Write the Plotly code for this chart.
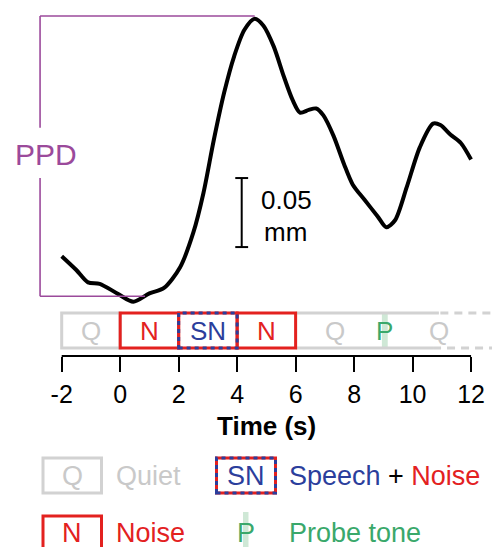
import plotly.graph_objects as go

# ---------------- data ----------------
time_s = [-2.0, -1.5, -1.1, -0.7, -0.1, 0.45, 1.0, 1.5, 2.05, 2.5, 2.85, 3.2, 3.55,
          3.9, 4.25, 4.6, 4.9, 5.25, 5.6, 5.9, 6.15, 6.45, 6.7, 6.95, 7.3, 7.65,
          7.95, 8.35, 8.8, 9.1, 9.4, 9.8, 10.25, 10.7, 10.95, 11.3, 11.65, 12.0]
pupil_mm = [0.033, 0.023, 0.014, 0.013, 0.006, 0.0, 0.006, 0.010, 0.025, 0.050,
            0.079, 0.117, 0.151, 0.178, 0.197, 0.205, 0.200, 0.185, 0.163, 0.146,
            0.137, 0.139, 0.140, 0.135, 0.120, 0.100, 0.085, 0.074, 0.062, 0.054,
            0.059, 0.083, 0.112, 0.129, 0.128, 0.121, 0.115, 0.103]

tick_vals = [-2, 0, 2, 4, 6, 8, 10, 12]
tick_text = ["-2", "0", "2", "4", "6", "8", "10", "12"]

# stimulus segments: (start, end, label)
seg_quiet1 = (-2, 0, "Q")
seg_noise1 = (0, 2, "N")
seg_sn = (2, 4, "SN")
seg_noise2 = (4, 6, "N")
seg_quiet2 = (6, 10.7, "Q")
seg_quiet3 = (10.7, 13.2, "Q")
probe_time = 9.05
quiet2_label_t = 7.35
quiet3_label_t = 10.9

ppd_peak_t = 4.6
ppd_base_t = 0.85
ppd_peak_v = 0.207
ppd_base_v = 0.004
ppd_left_t = -2.74

scale_t = 4.156
scale_v0 = 0.0396
scale_len = 0.05

# ---------------- styles ----------------
RED = "#e3211f"
BLUE = "#2b3e9c"
GREEN = "#3aa86b"
LGREEN = "#cfe8d6"
GRAY = "#d2d2d2"
GRAYTXT = "#c9c9c9"
PURPLE = "#9b4a9b"
FONT = "Liberation Sans, Arial, sans-serif"

W, H = 492, 547
XR = [-4.110, 12.716]
YR = [-0.1777, 0.2186]


def px(x):
    return x / W


def py(y):
    return 1 - y / H


fig = go.Figure()
fig.add_trace(go.Scatter(x=time_s, y=pupil_mm, mode="lines",
                         line=dict(color="black", width=4, shape="spline", smoothing=0.8),
                         hoverinfo="skip", showlegend=False))

shapes = []
ann = []

# axis line (from -2 to 12)
shapes.append(dict(type="line", xref="x", yref="paper", x0=tick_vals[0], x1=tick_vals[-1],
                   y0=py(356), y1=py(356), line=dict(color="black", width=2)))

# PPD bracket
pl = dict(color=PURPLE, width=1.6)
shapes.append(dict(type="line", xref="x", yref="y", x0=ppd_left_t, x1=ppd_peak_t,
                   y0=ppd_peak_v, y1=ppd_peak_v, line=pl))
shapes.append(dict(type="line", xref="x", yref="y", x0=ppd_left_t, x1=ppd_base_t,
                   y0=ppd_base_v, y1=ppd_base_v, line=pl))
shapes.append(dict(type="line", xref="x", yref="y", x0=ppd_left_t, x1=ppd_left_t,
                   y0=ppd_peak_v, y1=0.126, line=pl))
shapes.append(dict(type="line", xref="x", yref="y", x0=ppd_left_t, x1=ppd_left_t,
                   y0=0.0896, y1=ppd_base_v, line=pl))
ann.append(dict(x=-2.52, y=0.107, xref="x", yref="y", text="PPD", showarrow=False,
                font=dict(family=FONT, size=30, color=PURPLE), xanchor="center", yanchor="middle"))

# scale bar
sl = dict(color="black", width=2)
shapes.append(dict(type="line", xref="x", yref="y", x0=scale_t, x1=scale_t,
                   y0=scale_v0, y1=scale_v0 + scale_len, line=sl))
for yy in (scale_v0, scale_v0 + scale_len):
    shapes.append(dict(type="line", xref="x", yref="y", x0=scale_t - 0.22, x1=scale_t + 0.22,
                       y0=yy, y1=yy, line=sl))
ann.append(dict(x=scale_t + 0.6, y=scale_v0 + 0.034, xref="x", yref="y", text="0.05",
                showarrow=False, font=dict(family=FONT, size=26, color="black"),
                xanchor="left", yanchor="middle"))
ann.append(dict(x=scale_t + 0.7, y=scale_v0 + 0.011, xref="x", yref="y", text="mm",
                showarrow=False, font=dict(family=FONT, size=26, color="black"),
                xanchor="left", yanchor="middle"))

# stimulus row
bt, bb = py(313), py(348)
bmid = py(331)
shapes.append(dict(type="rect", xref="x", yref="paper", x0=seg_quiet1[0], x1=seg_quiet1[1],
                   y0=bb, y1=bt, line=dict(color=GRAY, width=3)))
# quiet 2 (open on the right) + dashed continuation
shapes.append(dict(type="line", xref="x", yref="paper", x0=seg_quiet2[0], x1=seg_quiet2[1] + 0.2,
                   y0=bt, y1=bt, line=dict(color=GRAY, width=3)))
shapes.append(dict(type="line", xref="x", yref="paper", x0=seg_quiet2[0], x1=seg_quiet2[1],
                   y0=bb, y1=bb, line=dict(color=GRAY, width=3)))
shapes.append(dict(type="line", xref="x", yref="paper", x0=seg_quiet3[0] + 0.25, x1=seg_quiet3[1],
                   y0=bt, y1=bt, line=dict(color=GRAY, width=3, dash="8px,6px")))
shapes.append(dict(type="line", xref="x", yref="paper", x0=seg_quiet3[0], x1=seg_quiet3[1],
                   y0=bb, y1=bb, line=dict(color=GRAY, width=3, dash="8px,6px")))
# probe band
shapes.append(dict(type="rect", xref="x", yref="paper", x0=probe_time - 0.1, x1=probe_time + 0.1,
                   y0=bb, y1=bt, line=dict(width=0), fillcolor=LGREEN, layer="below"))
for seg in (seg_noise1, seg_noise2):
    shapes.append(dict(type="rect", xref="x", yref="paper", x0=seg[0], x1=seg[1],
                       y0=bb, y1=bt, line=dict(color=RED, width=3)))
shapes.append(dict(type="rect", xref="x", yref="paper", x0=seg_sn[0], x1=seg_sn[1],
                   y0=bb, y1=bt, line=dict(color=RED, width=3)))
shapes.append(dict(type="rect", xref="x", yref="paper", x0=seg_sn[0], x1=seg_sn[1],
                   y0=bb, y1=bt, line=dict(color=BLUE, width=3, dash="4px,4px")))

bf = dict(family=FONT, size=26)
for seg, col in ((seg_quiet1, GRAYTXT), (seg_noise1, RED), (seg_sn, BLUE), (seg_noise2, RED)):
    ann.append(dict(x=(seg[0] + seg[1]) / 2, y=bmid, xref="x", yref="paper", text=seg[2],
                    showarrow=False, font=dict(bf, color=col), xanchor="center", yanchor="middle"))
ann.append(dict(x=quiet2_label_t, y=bmid, xref="x", yref="paper", text="Q", showarrow=False,
                font=dict(bf, color=GRAYTXT), xanchor="center", yanchor="middle"))
ann.append(dict(x=probe_time, y=bmid, xref="x", yref="paper", text="P", showarrow=False,
                font=dict(bf, color=GREEN), xanchor="center", yanchor="middle"))
ann.append(dict(x=quiet3_label_t, y=bmid, xref="x", yref="paper", text="Q", showarrow=False,
                font=dict(bf, color=GRAYTXT), xanchor="center", yanchor="middle"))

# axis title
ann.append(dict(x=266 / W, y=py(426), xref="paper", yref="paper", text="<b>Time (s)</b>",
                showarrow=False, font=dict(family=FONT, size=26, color="black"),
                xanchor="center", yanchor="middle"))

# ---------------- legend ----------------
lf = dict(family=FONT, size=27)
r1, r2 = 476, 533
shapes.append(dict(type="rect", xref="paper", yref="paper", x0=px(43), x1=px(101.5),
                   y0=py(493), y1=py(458), line=dict(color=GRAY, width=3)))
ann.append(dict(x=px(72), y=py(r1), xref="paper", yref="paper", text="Q", showarrow=False,
                font=dict(lf, color=GRAYTXT), xanchor="center", yanchor="middle"))
ann.append(dict(x=px(114), y=py(r1), xref="paper", yref="paper", text="Quiet", showarrow=False,
                font=dict(lf, color=GRAYTXT), xanchor="left", yanchor="middle"))

shapes.append(dict(type="rect", xref="paper", yref="paper", x0=px(216.5), x1=px(275.5),
                   y0=py(493), y1=py(458), line=dict(color=RED, width=3)))
shapes.append(dict(type="rect", xref="paper", yref="paper", x0=px(216.5), x1=px(275.5),
                   y0=py(493), y1=py(458), line=dict(color=BLUE, width=3, dash="4px,4px")))
ann.append(dict(x=px(246), y=py(r1), xref="paper", yref="paper", text="SN", showarrow=False,
                font=dict(lf, color=BLUE), xanchor="center", yanchor="middle"))
ann.append(dict(x=px(287), y=py(r1), xref="paper", yref="paper",
                text=f"<span style='color:{BLUE}'>Speech</span> + <span style='color:{RED}'>Noise</span>",
                showarrow=False, font=dict(lf, color="black"), xanchor="left", yanchor="middle"))

shapes.append(dict(type="rect", xref="paper", yref="paper", x0=px(43), x1=px(101.5),
                   y0=py(553), y1=py(516), line=dict(color=RED, width=3)))
ann.append(dict(x=px(72), y=py(r2), xref="paper", yref="paper", text="N", showarrow=False,
                font=dict(lf, color=RED), xanchor="center", yanchor="middle"))
ann.append(dict(x=px(114), y=py(r2), xref="paper", yref="paper", text="Noise", showarrow=False,
                font=dict(lf, color=RED), xanchor="left", yanchor="middle"))

shapes.append(dict(type="rect", xref="paper", yref="paper", x0=px(243), x1=px(248.5),
                   y0=py(550), y1=py(512), line=dict(width=0), fillcolor=LGREEN, layer="below"))
ann.append(dict(x=px(246.5), y=py(r2), xref="paper", yref="paper", text="P", showarrow=False,
                font=dict(lf, color=GREEN), xanchor="center", yanchor="middle"))
ann.append(dict(x=px(287), y=py(r2), xref="paper", yref="paper", text="Probe tone", showarrow=False,
                font=dict(lf, color=GREEN), xanchor="left", yanchor="middle"))

fig.update_layout(
    width=W, height=H, margin=dict(l=0, r=0, t=0, b=0),
    paper_bgcolor="white", plot_bgcolor="white",
    shapes=shapes, annotations=ann, showlegend=False,
    xaxis=dict(range=XR, domain=[0, 1], anchor="free", position=py(356),
               showgrid=False, zeroline=False, showline=False,
               tickmode="array", tickvals=tick_vals, ticktext=tick_text,
               ticks="outside", ticklen=15, tickwidth=2, tickcolor="black",
               ticklabelstandoff=1,
               tickfont=dict(family=FONT, size=25, color="black"), fixedrange=True),
    yaxis=dict(range=YR, domain=[0, 1], visible=False, fixedrange=True),
)

fig.write_html("out.html")
